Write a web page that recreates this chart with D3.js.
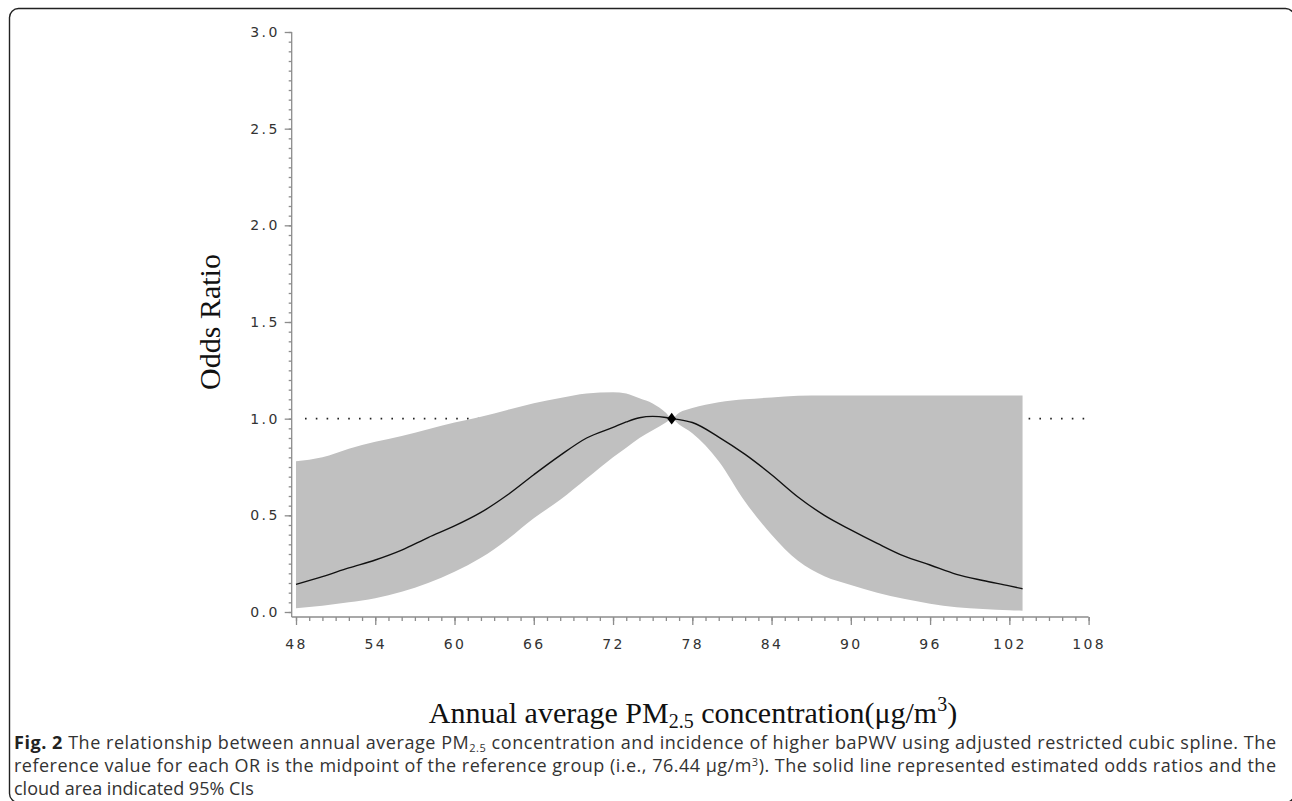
<!DOCTYPE html>
<html>
<head>
<meta charset="utf-8">
<script src="https://cdn.jsdelivr.net/npm/d3@7"></script>
<style>
  body { margin: 0; background: #fff; }
</style>
</head>
<body>
<script>
var pm = [48, 50, 52, 54, 56, 58, 60, 62, 64, 66, 68, 70, 72, 73, 74, 75, 76, 76.44, 77, 78,
          80, 82, 84, 86, 88, 90, 92, 94, 96, 98, 100, 102, 103];
// estimated odds ratio (solid line)
var oddsRatio = [0.143, 0.183, 0.228, 0.269, 0.32, 0.385, 0.445, 0.515, 0.605, 0.71, 0.81, 0.90, 0.955, 0.983, 1.005, 1.012, 1.006, 1.0, 0.995, 0.98,
                 0.905, 0.815, 0.71, 0.595, 0.50, 0.425, 0.355, 0.29, 0.243, 0.195, 0.163, 0.135, 0.12];
// 95% CI lower / upper (grey cloud)
var ciLower = [0.019, 0.032, 0.05, 0.071, 0.105, 0.15, 0.208, 0.28, 0.375, 0.485, 0.58, 0.69, 0.80, 0.85, 0.90, 0.94, 0.98, 1.0, 0.97, 0.925,
               0.78, 0.57, 0.40, 0.265, 0.185, 0.14, 0.10, 0.068, 0.043, 0.025, 0.016, 0.009, 0.007];
var ciUpper = [0.78, 0.80, 0.845, 0.88, 0.91, 0.945, 0.98, 1.01, 1.045, 1.08, 1.107, 1.13, 1.137, 1.13, 1.105, 1.078, 1.03, 1.0, 1.03, 1.055,
               1.085, 1.10, 1.11, 1.118, 1.12, 1.12, 1.12, 1.12, 1.12, 1.12, 1.12, 1.12, 1.12];
var refValue = 76.44, refOR = 1.0;
var xTicks = [48, 54, 60, 66, 72, 78, 84, 90, 96, 102, 108];
var yTicks = [0, 0.5, 1.0, 1.5, 2.0, 2.5, 3.0];

var width = 1292, height = 801;

var x = d3.scaleLinear().domain([48, 108]).range([296, 1088.6]);
var y = d3.scaleLinear().domain([0, 3]).range([612, 32]);
var axisX = 291.7, axisY = 617;

var svg = d3.select('body').append('svg')
  .attr('width', width)
  .attr('height', height)
  .style('display', 'block');

// rounded frame round the figure (right and bottom edges fall just outside)
svg.append('rect')
  .attr('x', 9.5).attr('y', 8.5)
  .attr('width', 1285).attr('height', 794)
  .attr('rx', 9).attr('ry', 9)
  .style('fill', 'none')
  .style('stroke', '#222')
  .style('stroke-width', 1.4);

var pts = pm.map(function(d, i) {
  return { pm: d, or: oddsRatio[i], lo: ciLower[i], hi: ciUpper[i] };
});

// reference line at OR = 1 (sits under the cloud)
svg.append('line')
  .attr('x1', x(48) + 9).attr('x2', x(108))
  .attr('y1', y(1)).attr('y2', y(1))
  .style('stroke', '#222')
  .style('stroke-width', 1.6)
  .style('stroke-dasharray', '1.6,9.2');

svg.append('path')
  .datum(pts)
  .attr('d', d3.area()
    .x(function(d) { return x(d.pm); })
    .y0(function(d) { return y(d.lo); })
    .y1(function(d) { return y(d.hi); })
    .curve(d3.curveMonotoneX))
  .style('fill', '#c0c0c0');

svg.append('path')
  .datum(pts)
  .attr('d', d3.line()
    .x(function(d) { return x(d.pm); })
    .y(function(d) { return y(d.or); })
    .curve(d3.curveMonotoneX))
  .style('fill', 'none')
  .style('stroke', '#111')
  .style('stroke-width', 1.4);

svg.append('path')
  .attr('transform', 'translate(' + x(refValue) + ',' + y(refOR) + ') scale(1.3,1)')
  .attr('d', d3.symbol().type(d3.symbolDiamond).size(40))
  .style('fill', '#000');

// axes
var axisCol = '#8c8c8c';
var tickFont = '"DejaVu Sans", sans-serif';

var yAxis = d3.axisLeft(y).tickValues(yTicks).tickFormat(d3.format('.1f')).tickSize(7).tickPadding(5);
var yMinor = d3.axisLeft(y).tickValues(d3.range(0, 3.001, 0.05)).tickFormat('').tickSize(3);
var xAxis = d3.axisBottom(x).tickValues(xTicks).tickFormat(d3.format('d')).tickSize(8).tickPadding(14);
var xMinor = d3.axisBottom(x).tickValues(d3.range(48, 108.5, 1)).tickFormat('').tickSize(4);

var gy = svg.append('g').attr('transform', 'translate(' + axisX + ',0)');
gy.append('g').call(yMinor);
gy.append('g').call(yAxis);
gy.selectAll('.domain').remove();
gy.append('line').attr('x1', 0).attr('x2', 0).attr('y1', y(3)).attr('y2', axisY);

var gx = svg.append('g').attr('transform', 'translate(0,' + axisY + ')');
gx.append('g').call(xMinor);
gx.append('g').call(xAxis);
gx.selectAll('.domain').remove();
gx.append('line').attr('x1', axisX).attr('x2', x(108)).attr('y1', 0).attr('y2', 0);

svg.selectAll('g line').style('stroke', axisCol).style('stroke-width', 1.3);
svg.selectAll('g .tick text')
  .style('font-family', tickFont)
  .style('font-size', '14px')
  .style('letter-spacing', '2.4px')
  .style('fill', '#333');

// axis titles
svg.append('text')
  .attr('transform', 'translate(220,322) rotate(-90)')
  .attr('text-anchor', 'middle')
  .style('font-family', '"Liberation Serif", "Times New Roman", serif')
  .style('font-size', '30px')
  .style('fill', '#111')
  .text('Odds Ratio');

var xt = svg.append('text')
  .attr('x', 693).attr('y', 723)
  .attr('text-anchor', 'middle')
  .style('font-family', '"Liberation Serif", "Times New Roman", serif')
  .style('font-size', '30px')
  .style('fill', '#111');
xt.append('tspan').text('Annual average PM');
xt.append('tspan').attr('dy', 5).style('font-size', '20px').text('2.5');
xt.append('tspan').attr('dy', -5).text(' concentration(μg/m');
xt.append('tspan').attr('dy', -12).style('font-size', '20px').text('3');
xt.append('tspan').attr('dy', 12).text(')');

// caption
var capFont = '"Open Sans", "Noto Sans", sans-serif';
var capX = 14;

var c1 = svg.append('text')
  .attr('x', capX).attr('y', 749)
  .attr('textLength', 1262).attr('lengthAdjust', 'spacing')
  .style('font-family', capFont).style('font-size', '18px').style('fill', '#333');
c1.append('tspan').style('font-weight', 'bold').style('fill', '#222').text('Fig. 2');
c1.append('tspan').text(' The relationship between annual average PM');
c1.append('tspan').attr('dy', 3).style('font-size', '11px').text('2.5');
c1.append('tspan').attr('dy', -3).text(' concentration and incidence of higher baPWV using adjusted restricted cubic spline. The');

var c2 = svg.append('text')
  .attr('x', capX).attr('y', 772)
  .attr('textLength', 1262).attr('lengthAdjust', 'spacing')
  .style('font-family', capFont).style('font-size', '18px').style('fill', '#333');
c2.append('tspan').text('reference value for each OR is the midpoint of the reference group (i.e., 76.44 μg/m');
c2.append('tspan').attr('dy', -6).style('font-size', '11px').text('3');
c2.append('tspan').attr('dy', 6).text('). The solid line represented estimated odds ratios and the');

svg.append('text')
  .attr('x', capX).attr('y', 795)
  .style('font-family', capFont).style('font-size', '18px').style('fill', '#333')
  .text('cloud area indicated 95% CIs');
</script>
</body>
</html>
